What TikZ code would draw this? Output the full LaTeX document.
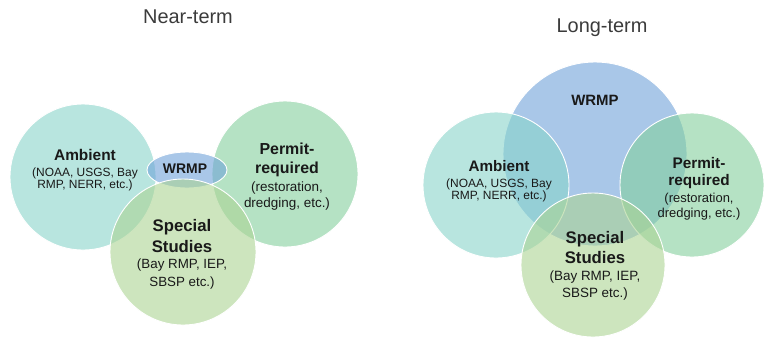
\documentclass[tikz,border=0pt]{standalone}
\usepackage{fontspec}
\setmainfont{Liberation Sans}
\begin{document}
\definecolor{ambC}{RGB}{137,213,203}
\definecolor{perC}{RGB}{132,208,158}
\definecolor{speC}{RGB}{172,212,148}
\definecolor{wrC}{RGB}{112,163,217}
\definecolor{txt}{RGB}{25,25,25}
\begin{tikzpicture}[x=1bp,y=-1bp,
  blob/.style={draw=white,line width=0.9bp,fill opacity=0.6},
  ttl/.style={anchor=base,inner sep=0,text=txt!85,font=\fontsize{20}{24}\selectfont},
  hd/.style={anchor=base,inner sep=0,text=txt,font=\bfseries\fontsize{#1}{#1}\selectfont},
  sb/.style={anchor=base,inner sep=0,text=txt,font=\fontsize{#1}{#1}\selectfont}]
\useasboundingbox[fill=white] (0,0) rectangle (764,337);

% ---------- Near-term ----------
\node[ttl] (t1) at (188,23) {Near-term};
\fill[ambC,blob] (83,177) circle[radius=73];
\fill[perC,blob] (285,174) circle[radius=73];
\fill[wrC,blob] (187,170) ellipse[x radius=40,y radius=18];
\fill[speC,blob] (183,252) circle[radius=73];

\node[hd=15.5] (a1) at (85,160.5) {Ambient};
\node[sb=12] (a1b) at (85,176.5) {(NOAA, USGS, Bay};
\node[sb=12] (a1c) at (85,188.5) {RMP, NERR, etc.)};
\node[hd=14] (w1) at (185,173) {WRMP};
\node[hd=16] (p1) at (287,154.5) {Permit-};
\node[hd=16] (p1b) at (287,173) {required};
\node[sb=13.5] (p1c) at (287,191.5) {(restoration,};
\node[sb=13.5] (p1d) at (287,207) {dredging, etc.)};
\node[hd=16.8] (s1) at (182,231) {Special};
\node[hd=16.8] (s1b) at (182,252) {Studies};
\node[sb=13.4] (s1c) at (182,268) {(Bay RMP, IEP,};
\node[sb=13.4] (s1d) at (182,286) {SBSP etc.)};

% ---------- Long-term ----------
\node[ttl] (t2) at (602,32) {Long-term};
\fill[wrC,blob] (595,154) circle[radius=92];
\fill[ambC,blob] (496,185) circle[radius=73];
\fill[perC,blob] (692,185) circle[radius=72];
\fill[speC,blob] (593,265) circle[radius=72];

\node[hd=15] (w2) at (595,105.5) {WRMP};
\node[hd=15.3] (a2) at (499,171.5) {Ambient};
\node[sb=12] (a2b) at (499,187.5) {(NOAA, USGS, Bay};
\node[sb=12] (a2c) at (499,199.5) {RMP, NERR, etc.)};
\node[hd=15.4] (p2) at (699,168.5) {Permit-};
\node[hd=15.4] (p2b) at (699,185.5) {required};
\node[sb=13] (p2c) at (699,202.5) {(restoration,};
\node[sb=13] (p2d) at (699,217) {dredging, etc.)};
\node[hd=16.8] (s2) at (595,243) {Special};
\node[hd=16.8] (s2b) at (595,263) {Studies};
\node[sb=13.5] (s2c) at (595,280) {(Bay RMP, IEP,};
\node[sb=13.5] (s2d) at (595,297) {SBSP etc.)};
\end{tikzpicture}
\end{document}
